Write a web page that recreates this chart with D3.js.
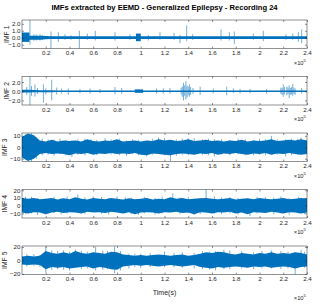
<!DOCTYPE html>
<html>
<head>
<meta charset="utf-8">
<script src="https://cdn.jsdelivr.net/npm/d3@7"></script>
<style>
  body { margin: 0; background: #fff; }
  svg { display: block; font-family: "Liberation Sans", Arial, sans-serif; }
</style>
</head>
<body>
<div id="chart"></div>
<script>
// sample grid of the envelopes, in units of 1e5 samples
var gridX = [0, 0.05, 0.1, 0.15, 0.2, 0.25, 0.3, 0.35, 0.4, 0.45, 0.5, 0.55, 0.6, 0.65, 0.7, 0.75, 0.8, 0.85, 0.9, 0.95,
    1.0, 1.05, 1.1, 1.15, 1.2, 1.25, 1.3, 1.35, 1.4, 1.45, 1.5, 1.55, 1.6, 1.65, 1.7, 1.75, 1.8, 1.85, 1.9, 1.95,
    2.0, 2.05, 2.1, 2.15, 2.2, 2.25, 2.3, 2.35, 2.4];
var xTicks = [0.2, 0.4, 0.6, 0.8, 1, 1.2, 1.4, 1.6, 1.8, 2, 2.2, 2.4];

var imfNames = ["IMF 1", "IMF 2", "IMF 3", "IMF 4", "IMF 5"];
var imfDomains = [[-1.55, 2.55], [-3.0, 3.2], [-12.5, 12.5], [-16, 21], [-21, 21.5]];
var imfTicks = [[-1, 0, 1, 2], [-2, 0, 2], [-10, 0, 10], [-10, 0, 10, 20], [-20, 0, 20]];

// dense band (upper / lower envelope)
var imf1Upper = [0.25, 0.3, 0.3, 0.3, 0.25, 0.22, 0.22, 0.2, 0.22, 0.2, 0.2, 0.22, 0.2, 0.2, 0.22, 0.2, 0.2, 0.22, 0.2, 0.2,
    0.22, 0.2, 0.2, 0.22, 0.2, 0.2, 0.22, 0.2, 0.2, 0.22, 0.2, 0.2, 0.22, 0.2, 0.2, 0.22, 0.2, 0.2, 0.22, 0.2,
    0.2, 0.22, 0.2, 0.2, 0.22, 0.2, 0.2, 0.22, 0.2];
var imf1Lower = [-0.25, -0.3, -0.3, -0.28, -0.22, -0.2, -0.2, -0.2, -0.2, -0.2, -0.2, -0.2, -0.2, -0.2, -0.2, -0.2, -0.2, -0.2, -0.2, -0.2,
    -0.2, -0.2, -0.2, -0.2, -0.2, -0.2, -0.2, -0.2, -0.2, -0.2, -0.2, -0.2, -0.2, -0.2, -0.2, -0.2, -0.2, -0.2, -0.2, -0.2,
    -0.2, -0.2, -0.2, -0.2, -0.2, -0.2, -0.2, -0.2, -0.2];
var imf1Bursts = [[0, 0.062, -0.6, 0.75], [0.96, 1.0, -0.5, 0.6]];
var imf1Spikes = [[0.067, -1.0, 2.55], [0.152, -0.4, 0.5], [0.244, -1.55, 0.9], [0.306, -0.6, 0.8], [0.362, -0.3, 0.5],
    [0.413, -0.3, 0.35], [0.483, -1.5, 1.0], [0.55, -0.3, 0.6], [0.617, -0.4, 1.0], [0.783, -0.4, 0.8], [0.909, -0.3, 0.5],
    [1.064, -0.4, 0.4], [1.162, -0.3, 0.8], [1.28, -0.3, 0.7], [1.33, -0.8, 0.4], [1.387, -0.5, 1.8], [1.437, -0.3, 0.5],
    [1.676, -0.4, 1.2], [1.746, -0.4, 0.8], [1.788, -0.9, 0.9], [1.948, -0.3, 0.6], [2.032, -0.5, 1.0], [2.223, -0.3, 0.5],
    [2.28, -0.3, 0.6], [2.327, -0.6, 0.8], [2.355, -0.8, 1.2], [0.1, -0.45, 0.5], [0.12, -0.4, 0.45], [0.17, -0.35, 0.4]];

var imf2Upper = [0.3, 0.3, 0.25, 0.2, 0.2, 0.2, 0.18, 0.18, 0.18, 0.18, 0.18, 0.18, 0.18, 0.18, 0.18, 0.18, 0.18, 0.18, 0.18, 0.18,
    0.18, 0.18, 0.18, 0.18, 0.18, 0.18, 0.18, 0.18, 0.18, 0.18, 0.18, 0.18, 0.18, 0.18, 0.18, 0.18, 0.18, 0.18, 0.18, 0.18,
    0.18, 0.18, 0.18, 0.18, 0.18, 0.18, 0.18, 0.18, 0.18];
var imf2Lower = [-0.3, -0.3, -0.25, -0.2, -0.2, -0.2, -0.18, -0.18, -0.18, -0.18, -0.18, -0.18, -0.18, -0.18, -0.18, -0.18, -0.18, -0.18, -0.18, -0.18,
    -0.18, -0.18, -0.18, -0.18, -0.18, -0.18, -0.18, -0.18, -0.18, -0.18, -0.18, -0.18, -0.18, -0.18, -0.18, -0.18, -0.18, -0.18, -0.18, -0.18,
    -0.18, -0.18, -0.18, -0.18, -0.18, -0.18, -0.18, -0.18, -0.18];
var imf2Bursts = [[0.95, 1.02, -0.35, 0.4]];
var imf2Spikes = [[0.067, -3.0, 3.2], [0.109, -1.2, 1.5], [0.18, -2.5, 1.5], [0.25, -2.0, 2.5], [0.292, -0.7, 0.8],
    [0.334, -0.5, 0.6], [0.39, -0.8, 0.6], [0.488, -0.4, 0.5], [0.573, -0.5, 0.6], [0.657, -0.4, 0.5], [0.783, -0.7, 0.9],
    [0.84, -0.6, 0.7], [1.134, -0.5, 0.6], [1.19, -0.5, 0.6], [1.246, -0.5, 0.7], [1.36, -2.0, 1.8], [1.38, -1.8, 2.2],
    [1.41, -1.2, 1.5], [1.5, -0.8, 1.0], [1.611, -0.5, 0.6], [1.724, -0.9, 1.0], [1.78, -0.4, 0.6], [1.836, -0.5, 0.5],
    [1.92, -0.4, 0.5], [2.06, -0.5, 0.5], [2.2, -1.2, 1.5], [2.25, -1.5, 1.3], [2.28, -1.0, 1.6], [2.355, -0.5, 0.7],
    [0.04, -0.8, 0.9], [0.08, -1.0, 1.1], [0.13, -0.6, 0.7], [0.2, -0.7, 0.6], [1.34, -0.7, 0.8], [1.35, -1.2, 1.0],
    [1.37, -1.0, 1.3], [1.39, -1.4, 1.2], [1.4, -0.9, 1.0], [1.42, -0.8, 0.9], [1.44, -0.6, 0.7], [2.18, -0.6, 0.8],
    [2.19, -0.8, 0.7], [2.21, -0.7, 0.9], [2.23, -0.9, 1.0], [2.24, -0.6, 0.8], [2.26, -0.8, 0.7], [2.27, -0.7, 0.9],
    [2.29, -0.6, 0.8], [2.3, -0.8, 0.6]];

var imf3Upper = [9, 12, 10.5, 6, 5, 6.5, 5, 6, 5.5, 6, 5, 7, 5.5, 5, 6, 5.5, 7, 5, 5.5, 6,
    5, 6, 5.5, 7, 6, 6.5, 5.5, 6, 7, 5.5, 6, 6.5, 5.5, 6, 5, 6, 5.5, 6.5, 5, 6,
    5.5, 6, 7, 5.5, 6, 6.5, 6, 7, 6];
var imf3Lower = [-9, -12, -10, -6, -5, -6, -5.5, -6, -7, -5.5, -6, -5, -6.5, -5.5, -6, -5, -6, -5.5, -6, -5,
    -6.5, -7, -5.5, -6, -6.5, -7, -6, -5.5, -6, -6.5, -5.5, -6, -5, -6.5, -5.5, -6, -5, -6, -6.5, -5.5,
    -6, -5, -6.5, -5.5, -6, -5, -6, -6.5, -6];
var imf3Bursts = [];
var imf3Spikes = [[0.42, -8.5, 6], [1.05, -8, 5], [1.15, -5, 8.5], [1.25, -12.3, 6], [2.1, -6, 10], [2.35, -6, 8.5],
    [0.7, -5, 8], [1.62, -8, 7], [0.53, -7, 7.5], [1.95, -7, 6], [0.88, -7.5, 6], [1.45, -6, 8], [2.22, -8, 7],
    [0.03, -11, 11.5], [0.08, -12.3, 12.3], [0.12, -10, 9], [0.17, -7, 7.5], [0.22, -6.5, 7], [0.27, -7.5, 6.5],
    [0.32, -6, 7.5], [0.37, -7, 6.5], [0.47, -6.5, 7], [0.58, -6, 7], [0.63, -7, 6.5], [0.75, -6.5, 7], [0.82, -7, 7.5],
    [0.93, -6, 7], [0.98, -7, 6.5], [1.1, -6.5, 7.5], [1.2, -7, 8], [1.3, -7.5, 7], [1.35, -6.5, 7.5], [1.4, -7, 8],
    [1.52, -6.5, 7], [1.57, -7, 7.5], [1.68, -6.5, 7], [1.75, -7, 6.5], [1.82, -6, 7.5], [1.88, -7, 7], [2.0, -6.5, 7.5],
    [2.05, -7, 7], [2.15, -6.5, 7], [2.27, -7, 7.5], [2.32, -6.5, 7]];

var imf4Upper = [10, 9, 10, 8.5, 9, 10, 8, 9.5, 8.5, 11, 9, 8, 10, 9, 8.5, 10, 9, 8, 9.5, 8.5,
    9, 10, 8, 9, 8.5, 11, 9, 10, 8.5, 9, 9.5, 10, 9, 8.5, 9, 10, 8, 9, 9.5, 8.5,
    10, 9, 8.5, 9, 10, 8.5, 9, 10, 9];
var imf4Lower = [-9, -10, -8.5, -9, -11, -9, -8, -9.5, -8.5, -9, -10, -8, -9, -8.5, -9.5, -8, -9, -10, -8.5, -11,
    -9, -8.5, -9, -10, -8.5, -9, -8, -9.5, -9, -11, -8.5, -9, -10, -8.5, -9, -8, -10, -9, -11, -8.5,
    -9, -9.5, -8, -9, -10, -8.5, -9, -10, -9];
var imf4Bursts = [];
var imf4Spikes = [[1.55, -9, 21], [1.27, -8, 16], [0.47, -9, 14.5], [1.92, -13.5, 8], [0.98, -12, 8], [0.6, -8, 12],
    [0.8, -8, 12], [2.05, -8, 11], [0.2, -11, 9], [1.45, -12, 9],
    [0.03, -11, 12], [0.08, -10, 11.5], [0.13, -12, 10], [0.27, -10, 11.5], [0.33, -11.5, 10], [0.38, -10, 12],
    [0.53, -11, 11], [0.67, -10.5, 11.5], [0.73, -11.5, 10], [0.87, -10, 11], [0.92, -11, 10.5], [1.03, -10, 11.5],
    [1.12, -11.5, 10], [1.18, -10, 12], [1.33, -11, 10.5], [1.4, -10, 11.5], [1.5, -11, 10], [1.62, -10.5, 12],
    [1.68, -11, 10.5], [1.75, -10, 11], [1.82, -11.5, 10], [1.98, -10, 11.5], [2.12, -11, 10.5], [2.18, -10, 12],
    [2.25, -11.5, 10], [2.33, -10, 11.5], [2.38, -11, 10]];

var imf5Upper = [6, 7, 6, 7, 14, 11, 10, 12, 10, 14, 11, 10, 12, 11, 10, 13, 12, 9, 8, 7,
    8, 7, 8, 9, 8, 7, 8, 9, 7, 8, 10, 12, 11, 13, 12, 10, 9, 11, 10, 9,
    11, 10, 12, 10, 11, 10, 12, 11, 9];
var imf5Lower = [-6, -7, -6, -7, -13, -10, -11, -10, -12, -11, -10, -9, -12, -10, -11, -13, -14, -9, -8, -7,
    -8, -7, -8, -9, -8, -7, -8, -9, -8, -7, -10, -11, -12, -10, -11, -10, -9, -10, -11, -9,
    -10, -9, -11, -10, -9, -10, -12, -10, -9];
var imf5Bursts = [];
var imf5Spikes = [[0.2, -18, 20.5], [0.62, -15, 20.5], [0.78, -19, 21], [0.45, -10, 16], [0.35, -14, 15], [0.9, -12, 10],
    [1.2, -10, 13], [1.58, -14, 13], [1.7, -13, 16], [2.3, -20.5, 12], [2.35, -9, 16], [2.1, -12, 15], [1.45, -12, 11],
    [0.04, -9, 9], [0.1, -8, 9.5], [0.15, -9.5, 8], [0.25, -14, 15], [0.3, -13, 14], [0.4, -15, 13], [0.5, -13, 14],
    [0.55, -12, 13], [0.68, -14, 15], [0.72, -13, 14], [0.83, -15, 14], [0.95, -10, 10], [1.0, -11, 10], [1.08, -10, 11],
    [1.28, -10, 11], [1.35, -11, 12], [1.52, -13, 14], [1.63, -15, 14], [1.75, -13, 15], [1.85, -12, 14], [1.95, -13, 12],
    [2.02, -12, 14], [2.18, -13, 14], [2.24, -12, 13], [2.38, -11, 13]];

var uppers = [imf1Upper, imf2Upper, imf3Upper, imf4Upper, imf5Upper];
var lowers = [imf1Lower, imf2Lower, imf3Lower, imf4Lower, imf5Lower];
var bursts = [imf1Bursts, imf2Bursts, imf3Bursts, imf4Bursts, imf5Bursts];
var spikes = [imf1Spikes, imf2Spikes, imf3Spikes, imf4Spikes, imf5Spikes];

var W = 322, H = 306;
var axLeft = 22, axRight = 307;
var panelTops = [20, 76.5, 133, 189.5, 246];
var panelH = 28.5;
var lineColor = "#0072BD";
var axisColor = "#262626";

var svg = d3.select("#chart").append("svg").attr("width", W).attr("height", H);

svg.append("text")
    .attr("x", (axLeft + axRight) / 2).attr("y", 10)
    .attr("text-anchor", "middle")
    .attr("font-size", 7.6).attr("font-weight", "bold").attr("fill", "#000")
    .text("IMFs extracted by EEMD - Generalized Epilepsy - Recording 24");

var x = d3.scaleLinear().domain([0, 2.4]).range([axLeft, axRight]);

for (var k = 0; k < 5; k++) {
    drawPanel(k);
}

function drawPanel(k) {
    var pTop = panelTops[k], pBottom = pTop + panelH;
    var y = d3.scaleLinear().domain(imfDomains[k]).range([pBottom, pTop]);
    var g = svg.append("g");

    var band = gridX.map(function (gx, i) {
        return {x: gx, hi: uppers[k][i], lo: lowers[k][i]};
    });
    var area = d3.area()
        .x(function (d) { return x(d.x); })
        .y0(function (d) { return y(d.lo); })
        .y1(function (d) { return y(d.hi); });

    g.append("path").datum(band).attr("d", area).attr("fill", lineColor);

    g.selectAll("rect.burst").data(bursts[k]).enter().append("rect")
        .attr("class", "burst")
        .attr("x", function (d) { return x(d[0]); })
        .attr("width", function (d) { return x(d[1]) - x(d[0]); })
        .attr("y", function (d) { return y(d[3]); })
        .attr("height", function (d) { return y(d[2]) - y(d[3]); })
        .attr("fill", lineColor);

    g.selectAll("line.spike").data(spikes[k]).enter().append("line")
        .attr("class", "spike")
        .attr("x1", function (d) { return x(d[0]); })
        .attr("x2", function (d) { return x(d[0]); })
        .attr("y1", function (d) { return y(d[1]); })
        .attr("y2", function (d) { return y(d[2]); })
        .attr("stroke", lineColor).attr("stroke-width", 0.7).attr("stroke-opacity", 0.8);

    // axes, MATLAB style: ticks inside on all four sides
    var xb = g.append("g").attr("transform", "translate(0," + pBottom + ")")
        .call(d3.axisBottom(x).tickValues(xTicks).tickSize(-2).tickPadding(2.5)
            .tickFormat(function (d) { return String(+d.toFixed(1)); }));
    var xt = g.append("g").attr("transform", "translate(0," + pTop + ")")
        .call(d3.axisTop(x).tickValues(xTicks).tickSize(-2).tickFormat(""));
    var yl = g.append("g").attr("transform", "translate(" + axLeft + ",0)")
        .call(d3.axisLeft(y).tickValues(imfTicks[k]).tickSize(-2).tickPadding(1.5));
    var yr = g.append("g").attr("transform", "translate(" + axRight + ",0)")
        .call(d3.axisRight(y).tickValues(imfTicks[k]).tickSize(-2).tickFormat(""));

    [xb, xt, yl, yr].forEach(function (a) {
        a.select(".domain").remove();
        a.selectAll("line").attr("stroke", axisColor).attr("stroke-width", 0.5);
        a.selectAll("text").attr("fill", axisColor).attr("font-size", 6.2)
            .attr("font-family", "Liberation Sans, Arial, sans-serif");
    });

    g.append("rect")
        .attr("x", axLeft).attr("y", pTop)
        .attr("width", axRight - axLeft).attr("height", panelH)
        .attr("fill", "none").attr("stroke", axisColor).attr("stroke-width", 0.5);

    var labelX = k === 2 || k >= 3 ? 7 : 9;
    g.append("text")
        .attr("transform", "translate(" + labelX + "," + (pTop + panelH / 2) + ") rotate(-90)")
        .attr("text-anchor", "middle").attr("font-size", 6.8).attr("fill", axisColor)
        .text(imfNames[k]);

    var ex = g.append("text")
        .attr("x", axRight - 1).attr("y", k === 4 ? pBottom + 25 : pBottom + 16)
        .attr("text-anchor", "end").attr("font-size", 5.8).attr("fill", axisColor);
    ex.append("tspan").text("\u00d710");
    ex.append("tspan").attr("font-size", 4.3).attr("dy", -3).text("5");
}

svg.append("text")
    .attr("x", (axLeft + axRight) / 2).attr("y", 295)
    .attr("text-anchor", "middle").attr("font-size", 7).attr("fill", axisColor)
    .text("Time(s)");
</script>
</body>
</html>
